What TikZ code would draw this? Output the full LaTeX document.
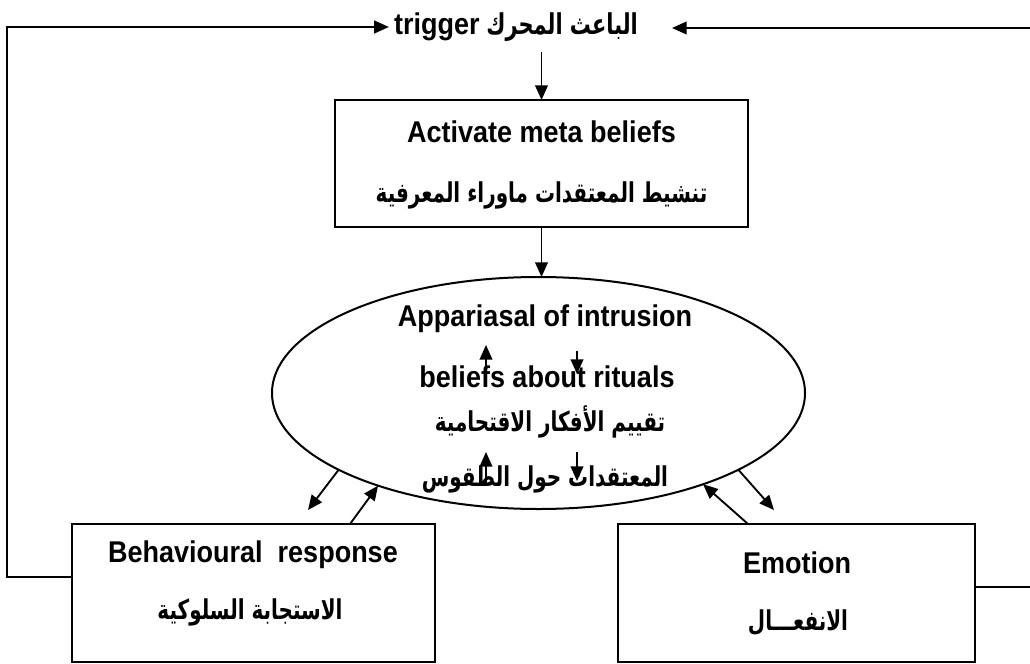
\documentclass[tikz,border=0pt]{standalone}
\usepackage{fontspec}
\setmainfont{Liberation Sans}
\newfontfamily\enfont[FakeStretch=0.9]{Liberation Sans}
\newfontfamily\arabicfont[Script=Arabic,FakeStretch=0.73]{DejaVu Sans}
\TeXXeTstate=1
\usetikzlibrary{shapes.geometric,arrows.meta}
\newlength\px
\setlength\px{0.75pt}
\tikzset{
  boxnode/.style={draw, line width=1.5pt, rectangle, inner sep=0, outer sep=0},
  entxt/.style={font=\enfont\fontsize{22.5}{26}\selectfont\bfseries, inner sep=0},
  artxt/.style={font=\arabicfont\fontsize{20.5}{24}\selectfont\bfseries, inner sep=0},
  conn/.style={line width=1.4pt},
  arr/.style={conn, -{Triangle[length=11pt,width=9.5pt]}}
}
\begin{document}
\begin{tikzpicture}[x=0.75pt,y=-0.75pt]
\useasboundingbox (0,0) rectangle (1030,663);

% top label
\node[entxt, inner xsep=5*\px, inner ysep=10*\px] (trig) at (516,27)
  {trigger\hspace{5pt}{\arabicfont\fontsize{21.5}{24}\selectfont\bfseries\beginR الباعث المحرك\endR}};

% boxes
\node[boxnode, minimum width=413*\px, minimum height=127*\px] (act) at (541.5,163.5) {};
\node[draw, line width=1.5pt, ellipse, minimum width=533*\px, minimum height=232*\px, inner sep=0, outer sep=0] (ell) at (538.5,393) {};
\node[boxnode, minimum width=363*\px, minimum height=138*\px] (behav) at (253.5,593) {};
\node[boxnode, minimum width=357*\px, minimum height=138*\px] (emo) at (796.5,593) {};

% texts
\node[entxt] (act1) at (541.5,132) {Activate meta beliefs};
\node[artxt] (act2) at (541.5,195) {\beginR تنشيط المعتقدات ماوراء المعرفية\endR};
\node[entxt] (ell1) at (545,319) {Appariasal of intrusion};
\node[entxt] (ell2) at (547,377) {beliefs about rituals};
\node[artxt] (ell3) at (550,422) {\beginR تقييم الأفكار الاقتحامية\endR};
\node[artxt] (ell4) at (545,479) {\beginR المعتقدات حول الطقوس\endR};
\node[entxt] (beh1) at (253,555) {Behavioural\enspace response};
\node[artxt] (beh2) at (250,612) {\beginR الاستجابة السلوكية\endR};
\node[entxt] (emo1) at (797,563) {Emotion};
\node[artxt] (emo2) at (798,623) {\beginR الانفعـــال\endR};

% coordinates
\coordinate (Lb) at (7,577);
\coordinate (Rt) at (1030,28);
\coordinate (trigR) at (672,28);
\coordinate (Rb) at (1030,587);
\coordinate (a1tip) at (308,510);
\coordinate (a2s) at (350,524);
\coordinate (a3s) at (748,524);
\coordinate (a4tip) at (774,510);
\coordinate (u1s) at (486,369);
\coordinate (u1t) at (486,345);
\coordinate (d1s) at (577,351);
\coordinate (d1t) at (577,374);
\coordinate (u2s) at (486,484);
\coordinate (u2t) at (486,452);
\coordinate (d2s) at (577,452);
\coordinate (d2t) at (577,481);

% connectors
\draw[arr] (behav.west |- Lb) -- (Lb) |- (trig.west);
\draw[arr] (Rt) -- (trigR);
\draw[conn] (emo.east |- Rb) -- (Rb);
\draw[arr] (act.north |- trig.south) -- (act.north);
\draw[arr] (act.south) -- (act.south |- ell.north);
\draw[arr] (ell.201) -- (a1tip);
\draw[arr] (a2s) -- (ell.210);
\draw[arr] (a3s) -- (ell.331);
\draw[arr] (ell.339) -- (a4tip);
\draw[arr] (u1s) -- (u1t);
\draw[arr] (d1s) -- (d1t);
\draw[arr] (u2s) -- (u2t);
\draw[arr] (d2s) -- (d2t);
\end{tikzpicture}
\end{document}
